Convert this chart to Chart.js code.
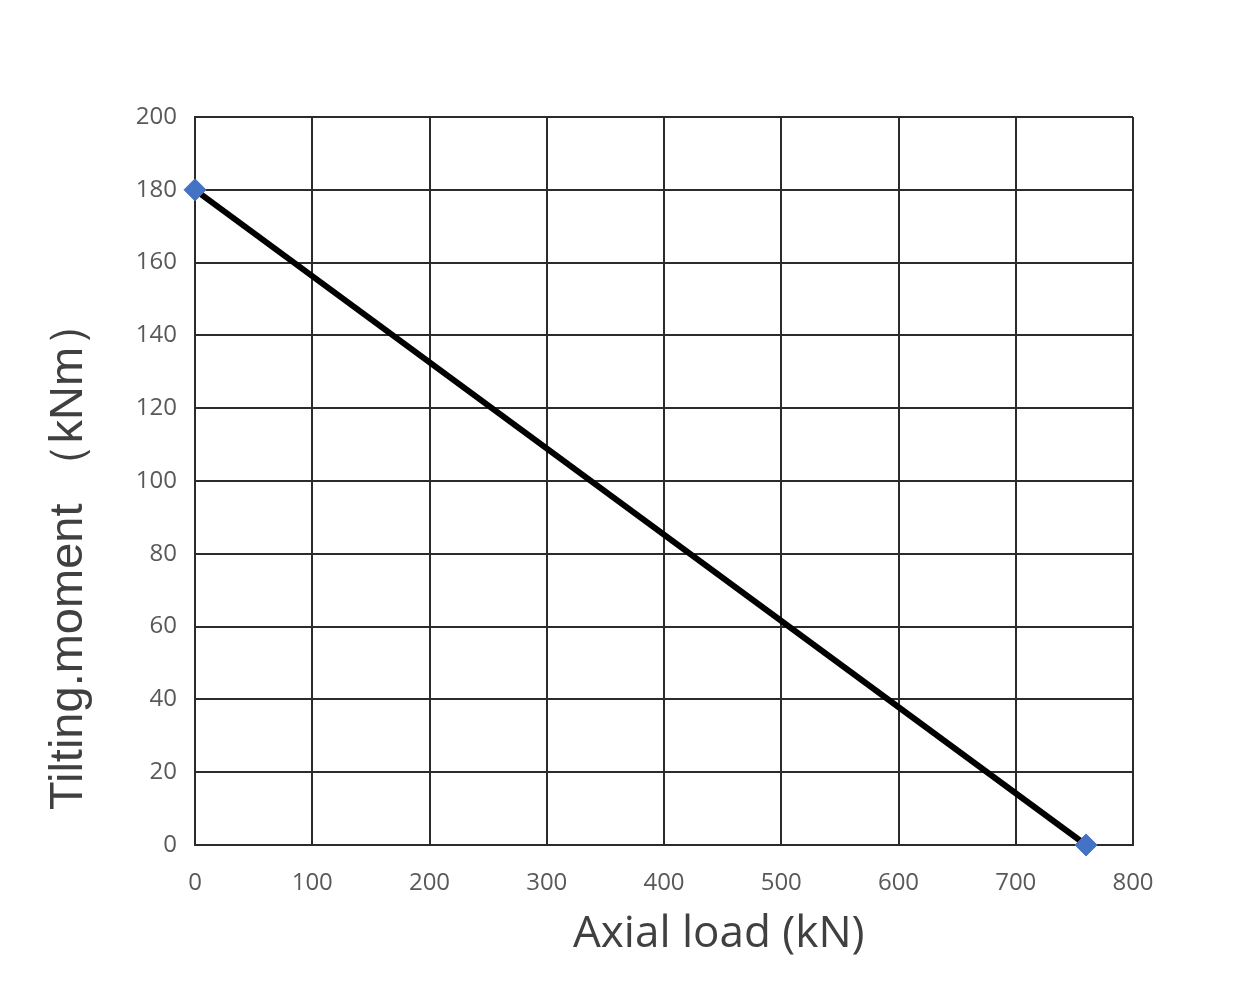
<!DOCTYPE html>
<html>
<head>
<meta charset="utf-8">
<script src="https://cdn.jsdelivr.net/npm/chart.js@4/dist/chart.umd.min.js"></script>
<style>
  html, body { margin: 0; padding: 0; background: #fff; }
  #wrap { width: 1260px; height: 990px; }
</style>
</head>
<body>
<div id="wrap"><canvas id="chart" width="1260" height="990"></canvas></div>
<script>
// Data
const axialLoad = [0, 760]        // kN
const tiltingMoment = [180, 0]    // kNm
const xTicks = [0, 100, 200, 300, 400, 500, 600, 700, 800]
const yTicks = [0, 20, 40, 60, 80, 100, 120, 140, 160, 180, 200]
const xTitle = 'Axial load (kN)'
const yTitle = 'Tilting.moment （kNm）'

const gridColor = '#2b2b2b'
const tickColor = '#595959'
const titleColor = '#404040'

const points = axialLoad.map((x, i) => ({ x: x, y: tiltingMoment[i] }))

// axis titles sit off-centre in the original, so draw them by hand
const axisTitles = {
  id: 'axisTitles',
  afterDraw(chart) {
    const { ctx, chartArea } = chart
    ctx.save()
    ctx.fillStyle = titleColor

    // x title: starts a bit right of centre, under the tick labels
    ctx.font = '44px "Open Sans"'
    ctx.textAlign = 'left'
    ctx.textBaseline = 'alphabetic'
    ctx.fillText(xTitle, chartArea.left + 378, chartArea.bottom + 102)

    // y title: rotated, begins near the bottom of the plot
    ctx.translate(chartArea.left - 126, chartArea.bottom - 35)
    ctx.rotate(-Math.PI / 2)
    ctx.font = '47px "Liberation Sans"'
    ctx.textAlign = 'left'
    ctx.textBaseline = 'middle'
    ctx.fillText(yTitle, 0, 0)
    ctx.restore()
  }
}

new Chart(document.getElementById('chart'), {
  type: 'scatter',
  data: {
    datasets: [{
      data: points,
      showLine: true,
      borderColor: '#000000',
      borderWidth: 6,
      pointStyle: 'rectRot',
      pointRadius: 11,
      pointBackgroundColor: '#4472C4',
      pointBorderColor: '#4472C4',
      pointBorderWidth: 1,
      clip: false
    }]
  },
  options: {
    responsive: false,
    animation: false,
    devicePixelRatio: 1,
    layout: { padding: { top: 117, right: 127, left: 0, bottom: 0 } },
    plugins: { legend: { display: false }, tooltip: { enabled: false } },
    scales: {
      x: {
        type: 'linear',
        min: xTicks[0],
        max: xTicks[xTicks.length - 1],
        afterBuildTicks: axis => { axis.ticks = xTicks.map(v => ({ value: v })) },
        afterFit: axis => { axis.height = 145 },
        grid: { color: gridColor, lineWidth: 2, drawTicks: false },
        border: { color: gridColor, width: 2 },
        ticks: { color: tickColor, padding: 24, font: { family: 'Open Sans', size: 24 } }
      },
      y: {
        type: 'linear',
        min: yTicks[0],
        max: yTicks[yTicks.length - 1],
        afterBuildTicks: axis => { axis.ticks = yTicks.map(v => ({ value: v })) },
        afterFit: axis => { axis.width = 195 },
        grid: { color: gridColor, lineWidth: 2, drawTicks: false },
        border: { color: gridColor, width: 2 },
        ticks: { color: tickColor, padding: 18, font: { family: 'Open Sans', size: 24 } }
      }
    }
  },
  plugins: [axisTitles]
})
</script>
</body>
</html>
